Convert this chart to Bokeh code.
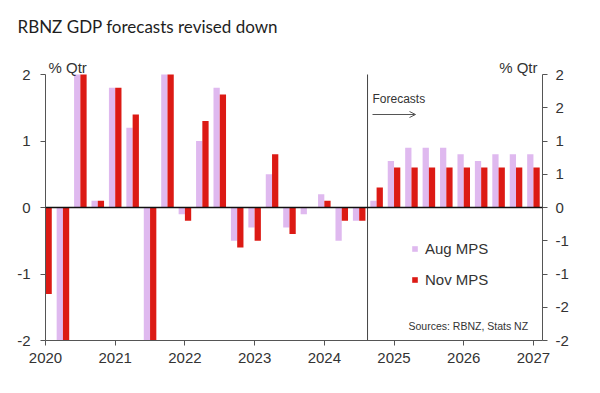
from bokeh.plotting import figure
from bokeh.models import (Range1d, LinearAxis, FixedTicker, Span, Label, Arrow,
                          OpenHead, Legend, LegendItem, ColumnDataSource)
from bokeh.transform import dodge
from bokeh.embed import file_html
from bokeh.resources import INLINE

# ---- data -----------------------------------------------------------------
quarters = ["2020Q1", "2020Q2", "2020Q3", "2020Q4",
            "2021Q1", "2021Q2", "2021Q3", "2021Q4",
            "2022Q1", "2022Q2", "2022Q3", "2022Q4",
            "2023Q1", "2023Q2", "2023Q3", "2023Q4",
            "2024Q1", "2024Q2", "2024Q3", "2024Q4",
            "2025Q1", "2025Q2", "2025Q3", "2025Q4",
            "2026Q1", "2026Q2", "2026Q3", "2026Q4",
            "2027Q1"]
aug_mps = [-1.3, -10.0, 14.0, 0.1, 1.8, 1.2, -3.7, 3.0,
           -0.1, 1.0, 1.8, -0.5, -0.3, 0.5, -0.3, -0.1,
           0.2, -0.5, -0.2, 0.1, 0.7, 0.9, 0.9, 0.9,
           0.8, 0.7, 0.8, 0.8, 0.8]
nov_mps = [-1.3, -10.0, 14.0, 0.1, 1.8, 1.4, -3.7, 3.0,
           -0.2, 1.3, 1.7, -0.6, -0.5, 0.8, -0.4, 0.0,
           0.1, -0.2, -0.2, 0.3, 0.6, 0.6, 0.6, 0.6,
           0.6, 0.6, 0.6, 0.6, 0.6]
year_ticks = [2020, 2021, 2022, 2023, 2024, 2025, 2026, 2027]
left_ticks = [-2, -1, 0, 1, 2]
left_labels = ["-2", "-1", "0", "1", "2"]
right_ticks = [-2, -1.5, -1, -0.5, 0, 0.5, 1, 1.5, 2]
right_labels = ["-2", "-2", "-1", "-1", "0", "1", "1", "2", "2"]
forecast_start = 2024.62

# ---- styling ---------------------------------------------------------------
LAV = "#DFB9EF"
RED = "#DC1A14"
FONT = "Liberation Sans"
TXT = "#333333"
AX = "#555555"

y_lo, y_hi = left_ticks[0], left_ticks[-1]
xpos = [int(q[:4]) + (int(q[5]) - 1) / 4 for q in quarters]
src = ColumnDataSource(dict(
    x=xpos,
    aug=[max(min(v, y_hi), y_lo) for v in aug_mps],
    nov=[max(min(v, y_hi), y_lo) for v in nov_mps],
))

# frame: left 45, right 542, y=-2 at 340, y=2 at 74 (66.5 px / unit); frame top at 42
p = figure(width=600, height=393, output_backend="svg", toolbar_location=None,
           x_range=Range1d(2020.0, 2027.13), y_range=Range1d(y_lo, y_hi + 32 / 66.5),
           min_border_left=45, min_border_right=58, min_border_top=42,
           min_border_bottom=53,
           title="RBNZ GDP forecasts revised down")
p.outline_line_color = None
p.xgrid.visible = False
p.ygrid.visible = False
p.background_fill_color = "white"
p.title.text_font = "Lato"
p.title.text_font_size = "17px"
p.title.text_font_style = "normal"
p.title.text_color = "#1E1E1E"
p.title.align = "left"
p.title.offset = -28
p.title.standoff = 11

bw = 0.09
r_aug = p.vbar(x=dodge("x", -bw / 2, range=p.x_range), top="aug", bottom=0, width=bw,
               source=src, fill_color=LAV, line_color=None)
r_nov = p.vbar(x=dodge("x", bw / 2, range=p.x_range), top="nov", bottom=0, width=bw,
               source=src, fill_color=RED, line_color=None)

p.add_layout(Span(location=0, dimension="width", line_color="#111111", line_width=1.5))
p.segment(x0=[forecast_start], y0=[y_lo], x1=[forecast_start], y1=[y_hi],
          line_color="#444444", line_width=1)


def style_axis(ax):
    ax.axis_line_color = AX
    ax.major_tick_line_color = AX
    ax.major_tick_out = 5
    ax.major_tick_in = 0
    ax.minor_tick_line_color = None
    ax.major_label_text_font = FONT
    ax.major_label_text_font_size = "15px"
    ax.major_label_text_color = TXT


xa = p.xaxis[0]
xa.ticker = FixedTicker(ticks=year_ticks)
style_axis(xa)
xa.major_label_standoff = 7

ya = p.yaxis[0]
ya.ticker = FixedTicker(ticks=left_ticks)
ya.bounds = (y_lo, y_hi)
ya.major_label_overrides = {t: l for t, l in zip(left_ticks, left_labels)}
style_axis(ya)
ya.major_label_standoff = 10

ra = LinearAxis(ticker=FixedTicker(ticks=right_ticks), bounds=(y_lo, y_hi),
                major_label_overrides={t: l for t, l in zip(right_ticks, right_labels)})
style_axis(ra)
ra.major_label_standoff = 8
p.add_layout(ra, "right")

# ---- texts (screen units from frame bottom-left) ----------------------------
p.add_layout(Label(x=3, y=273, x_units="screen", y_units="screen", text="% Qtr",
                   text_font=FONT, text_font_size="15px", text_color=TXT,
                   text_baseline="middle"))
p.add_layout(Label(x=492, y=273, x_units="screen", y_units="screen", text="% Qtr",
                   text_font=FONT, text_font_size="15px", text_color=TXT,
                   text_baseline="middle", text_align="right"))
p.add_layout(Label(x=327, y=242, x_units="screen", y_units="screen", text="Forecasts",
                   text_font=FONT, text_font_size="12px", text_color=TXT,
                   text_baseline="middle"))
p.add_layout(Arrow(x_start=327, y_start=226, x_end=370, y_end=226,
                   start_units="screen", end_units="screen", line_color="#555555",
                   line_width=1, end=OpenHead(size=6, line_color="#555555", line_width=1)))
p.add_layout(Label(x=363, y=15, x_units="screen", y_units="screen",
                   text="Sources: RBNZ, Stats NZ", text_font=FONT,
                   text_font_size="10.5px", text_color=TXT, text_baseline="middle"))

legend = Legend(items=[LegendItem(label="Aug MPS", renderers=[r_aug]),
                       LegendItem(label="Nov MPS", renderers=[r_nov])],
                location=(366, 52), orientation="vertical",
                glyph_width=7, glyph_height=7, label_standoff=7, spacing=14,
                padding=0, margin=0, border_line_color=None,
                background_fill_alpha=0, label_text_font=FONT,
                label_text_font_size="15px", label_text_color=TXT)
p.add_layout(legend, "center")

open("out.html", "w").write(file_html(p, INLINE))
